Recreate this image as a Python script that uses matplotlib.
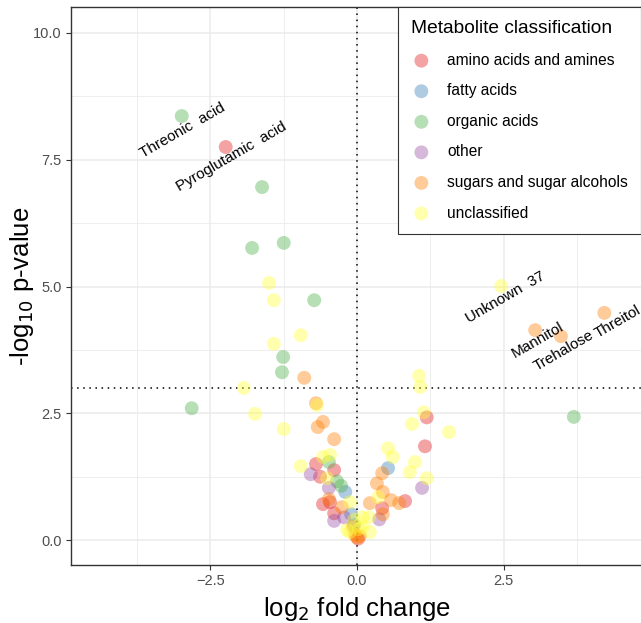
import numpy as np
import matplotlib
matplotlib.use("Agg")
import matplotlib.pyplot as plt

plt.rcParams['font.family'] = ['Liberation Sans', 'DejaVu Sans']

classes = ["amino acids and amines", "fatty acids", "organic acids",
           "other", "sugars and sugar alcohols", "unclassified"]
colors = ["#E41A1C", "#377EB8", "#4DAF4A", "#984EA3", "#FF7F00", "#FFFF33"]

# log2 fold change / -log10 p per metabolite class
amino_x = [-2.24, -0.70, -0.39, -0.63, -0.58, -0.46, -0.39, 1.16, 1.19, 0.82, 0.43, 0.02]
amino_y = [7.75, 1.50, 1.38, 1.25, 0.71, 0.75, 0.53, 1.85, 2.42, 0.77, 0.63, 0.03]
fatty_x = [0.53, -0.20, -0.10, -0.05]
fatty_y = [1.42, 0.95, 0.51, 0.30]
organic_x = [-2.99, -1.62, -1.79, -1.25, -0.73, -1.26, -1.28, -2.82, 3.70, -0.48, -0.34, -0.27]
organic_y = [8.36, 6.96, 5.76, 5.86, 4.73, 3.61, 3.31, 2.60, 2.43, 1.54, 1.16, 1.07]
other_x = [-0.79, -0.48, -0.39, 0.38, 1.11, -0.22]
other_y = [1.30, 1.03, 0.38, 0.41, 1.03, 0.45]
sugar_x = [4.22, 3.04, 3.48, -0.90, -0.70, -0.58, -0.67, -0.39, 0.34, 0.44, 0.22, 0.58,
           0.72, 0.43, 0.44, -0.26, -0.07, -0.48, 0.00, -0.03, 0.05]
sugar_y = [4.48, 4.14, 4.02, 3.20, 2.70, 2.33, 2.23, 1.99, 1.12, 0.95, 0.73, 0.79,
           0.73, 1.32, 0.51, 0.65, 0.26, 0.81, 0.05, 0.10, 0.08]
unclass_x = [2.46, -1.50, -1.42, -0.96, -1.42, -1.93, -1.74, -1.25, -0.68, 1.06, 1.08,
             1.14, 0.94, 0.53, 0.61, 0.99, 0.90, 1.19, -0.96, -0.58, -0.46, -0.51, 0.36,
             0.20, 0.09, 0.22, -0.12, -0.17, 0.09, -0.12, 1.57, -0.05, 0.03]
unclass_y = [5.01, 5.07, 4.73, 4.04, 3.87, 3.00, 2.49, 2.19, 2.66, 3.24, 3.02,
             2.52, 2.29, 1.81, 1.64, 1.54, 1.34, 1.22, 1.46, 1.64, 1.68, 1.22, 0.85,
             0.45, 0.45, 0.16, 0.75, 0.20, 0.26, 0.16, 2.13, 0.40, 0.22]

series_x = [amino_x, fatty_x, organic_x, other_x, sugar_x, unclass_x]
series_y = [amino_y, fatty_y, organic_y, other_y, sugar_y, unclass_y]

label_names = ["Threonic  acid", "Pyroglutamic  acid", "Unknown  37",
               "Mannitol", "Trehalose", "Threitol"]
label_x = [-2.97, -2.15, 2.53, 3.09, 3.53, 4.45]
label_y = [8.07, 7.55, 4.78, 3.94, 3.73, 4.30]

fig = plt.figure(figsize=(6.41, 6.23), dpi=100)
ax = fig.add_axes([71 / 641, 58 / 623, 572 / 641, 558 / 623])

for name, col, xs, ys in zip(classes, colors, series_x, series_y):
    ax.scatter(xs, ys, s=100, color=col, alpha=0.4, edgecolors="none", label=name, zorder=3)

for txt, tx, ty in zip(label_names, label_x, label_y):
    ax.text(tx, ty, txt, rotation=30, ha="center", va="center", fontsize=11,
            color="black", zorder=4, rotation_mode="anchor")

ax.axvline(0, color="black", linestyle=(0, (1, 3)), linewidth=1.1, zorder=2)
ax.axhline(3, color="black", linestyle=(0, (1, 3)), linewidth=1.1, zorder=2)

ax.set_xlim(-4.88, 4.88)
ax.set_ylim(-0.49, 10.51)
ax.set_xticks([-2.5, 0, 2.5])
ax.set_xticklabels(["\u22122.5", "0.0", "2.5"])
ax.set_yticks([0, 2.5, 5, 7.5, 10])
ax.set_yticklabels(["0.0", "2.5", "5.0", "7.5", "10.0"])
ax.set_xticks([-3.75, -1.25, 1.25, 3.75], minor=True)
ax.set_yticks([1.25, 3.75, 6.25, 8.75], minor=True)
ax.grid(which="major", color="#EBEBEB", linewidth=1.1, zorder=0)
ax.grid(which="minor", color="#EBEBEB", linewidth=0.6, zorder=0)
ax.set_axisbelow(True)
ax.tick_params(which="major", length=3.5, width=0.8, color="#333333",
               labelsize=10.5, labelcolor="#4D4D4D", pad=3)
ax.tick_params(which="minor", length=0)
for sp in ax.spines.values():
    sp.set_color("#333333")
    sp.set_linewidth(1.0)

ax.set_xlabel("log$_2$ fold change", fontsize=18.5, labelpad=5)
ax.set_ylabel("-log$_{10}$ p-value", fontsize=18.5)
ax.yaxis.set_label_coords(-0.062, 0.5)

leg = ax.legend(title="Metabolite classification", loc="upper right",
                bbox_to_anchor=(641 / 641, 616 / 623), bbox_transform=fig.transFigure,
                fontsize=11.2, title_fontsize=13.8, frameon=True, fancybox=False,
                edgecolor="#333333", framealpha=1, borderpad=0.85, labelspacing=1.0,
                handlelength=1.3, handletextpad=1.0, markerscale=1.0, borderaxespad=0)
leg._legend_box.align = "left"
leg.get_frame().set_linewidth(0.8)

fig.savefig("out.png", dpi=100)
